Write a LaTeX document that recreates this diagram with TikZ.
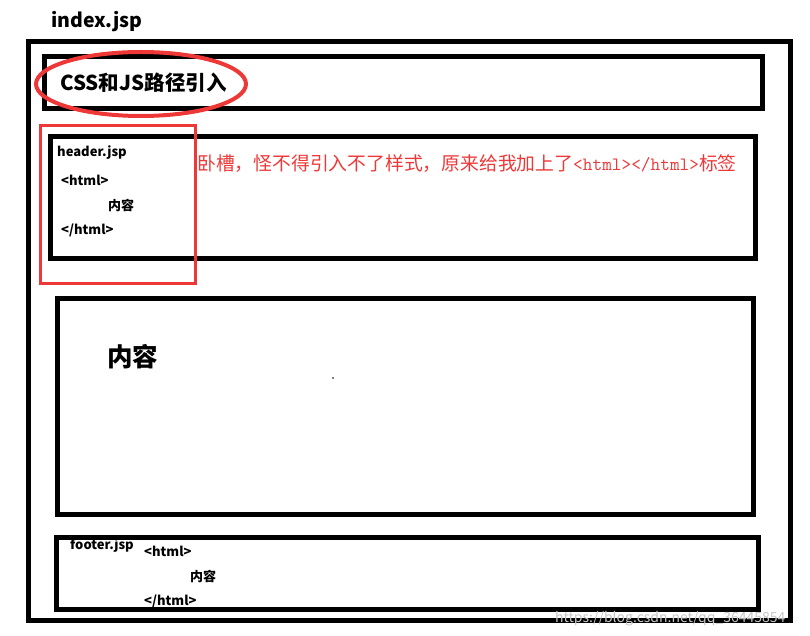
\documentclass[tikz,border=0pt]{standalone}
\usepackage{fontspec}
\setmainfont{Noto Sans CJK SC}
\usepackage{xcolor}
\definecolor{markred}{RGB}{238,56,56}
\tikzset{
  box/.style={line width=5pt},
  txt/.style={anchor=west, inner sep=0pt, font=\bfseries\fontsize{13}{15}\selectfont},
}

\begin{document}
\begin{tikzpicture}[x=1pt,y=-1pt]
\useasboundingbox (0,0) rectangle (810,636);
% pagina index
\draw[box] (28,42) -- (790,42) -- (790,620) -- (28,620) -- cycle;
\draw[box] (44,57) -- (762,57) -- (762,109) -- (44,109) -- cycle;
\draw[box] (50,137) -- (755,137) -- (755,258) -- (50,258) -- cycle;
\draw[box] (57,298) -- (753,298) -- (753,514) -- (57,514) -- cycle;
\draw[box] (56,537) -- (758,537) -- (758,609) -- (56,609) -- cycle;

\node[txt, font=\bfseries\fontsize{19.5}{22}\selectfont] (index) at (51,22) {index.jsp};
\node[txt, font=\bfseries\fontsize{20.5}{24}\selectfont] (css) at (60,83) {CSS和JS路径引入};

% header
\node[txt] (header) at (57,153) {header.jsp};
\node[txt] (hopen) at (61,180) {<html>};
\node[txt] (hbody) at (108,205) {内容};
\node[txt] (hclose) at (61,230) {</html>};

\node[txt, font=\bfseries\fontsize{25.5}{28}\selectfont] (content) at (107,357) {内容};
\fill (333,378) circle (0.8);

% footer
\node[txt] (footer) at (70,546) {footer.jsp};
\node[txt] (fopen) at (144,551) {<html>};
\node[txt] (fbody) at (190,576) {内容};
\node[txt] (fclose) at (144,601) {</html>};

% segni rossi
\draw[markred, line width=4pt] (141,84) ellipse [x radius=105, y radius=32];
\draw[markred, line width=3pt] (40,126) -- (195,126) -- (195,283) -- (40,283) -- cycle;
\node[anchor=west, inner sep=0pt, text=markred, font=\fontsize{18.8}{20}\selectfont] (note) at (197,164)
  {卧槽，怪不得引入不了样式，原来给我加上了{\ttfamily<html></html>}标签};

\node[anchor=west, inner sep=0pt, text=black!22, font=\fontsize{14}{16}\selectfont] (mark) at (555,619) {https://blog.csdn.net/qq\_36445854};
\end{tikzpicture}
\end{document}
